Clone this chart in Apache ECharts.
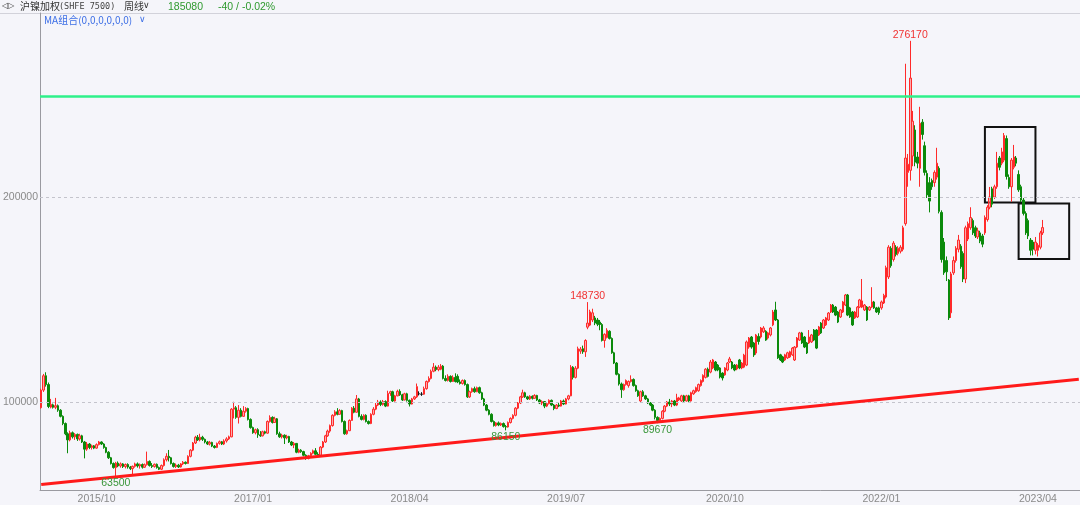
<!DOCTYPE html>
<html><head><meta charset="utf-8">
<script src="https://cdn.jsdelivr.net/npm/echarts@6/dist/echarts.min.js"></script>
<style>html,body{margin:0;padding:0;background:#f5f5fa;}#c{width:1080px;height:505px;}</style>
</head><body><div id="c"></div>
<script>
// ---- data ----
const firstWeek = '2015-04-27';
const weekCount = 432;
const tickLabels = ['2015/10','2017/01','2018/04','2019/07','2020/10','2022/01','2023/04'];
const gridLevels = [100000, 200000];
const highMarks = [276170, 148730];
const lowMarks = [63500, 86150, 89670];
const resistanceLevel = 249100;
const trendLine = [59700, 111100];
const boxes = [['2022-10-31','2023-03-27',234100,197300],['2023-02-06','2023-07-03',196800,169800]];
// [open, close, low, high]
const weeklyOHLC = [
[97200,105800,96800,106500],[105800,112800,104900,113700],[112800,108500,107500,114500],[108500,97800,97000,109500],[97500,98800,96900,101500],[98600,97400,96800,99200],
[97400,98200,96500,102000],[98200,96000,95200,98800],[96000,93000,92500,96500],[93000,89500,88700,93500],[89500,84500,83800,90000],[84500,81500,75000,85200],
[81500,85000,80800,86000],[85000,83000,82200,85600],[83000,84200,81500,84800],[84200,82000,81000,84600],[82000,83500,81200,84500],[83500,80500,80000,84000],
[80500,77000,72500,81000],[77000,79500,76200,80500],[79500,77800,77000,80000],[77800,78600,76800,79200],[78600,77500,77000,79000],[77500,79200,77200,79800],
[79200,80500,78800,81000],[80500,79500,79000,80800],[79500,77800,77200,79900],[77800,75500,75000,78200],[75500,72800,72200,76000],[72800,70000,69500,73200],
[70000,68000,67500,70500],[68000,70200,63500,70800],[70200,68800,68200,71000],[68800,69800,68000,70500],[69800,68500,67800,70200],[68500,69500,67600,70000],
[69500,68300,67500,70100],[68300,67500,66800,68800],[67500,68600,64800,69000],[68600,69800,68000,70400],[69800,68800,68000,70500],[68800,69500,67500,70000],
[69500,68200,67500,70000],[68200,69400,67800,70000],[69400,71000,69000,75800],[71000,69000,68500,71500],[69000,68500,67800,70200],[68500,69600,68000,70000],
[69600,68000,67500,70000],[68000,67200,66800,68500],[67200,69000,66800,69500],[69000,71800,68500,72500],[71800,73500,71000,75000],[73500,72800,71000,76600],
[72800,70000,69500,73200],[70000,68500,68000,70500],[68500,69200,67800,70000],[69200,68300,67800,69800],[68300,69800,68000,70200],[69800,70600,69200,71200],
[70600,70000,69500,71000],[70000,73500,69800,74000],[73500,76500,73000,77000],[76500,80000,76000,80500],[80000,82800,79500,83500],[82800,81500,81000,83900],
[81500,82800,80800,84500],[82800,81800,81000,83500],[81800,80500,79800,82200],[80500,79500,79000,81000],[79500,80300,78800,81000],[80300,78500,78000,80600],
[78500,77800,77300,79000],[77800,79800,77500,80200],[79800,80600,79200,81200],[80600,79500,79000,81000],[79500,81000,79000,81800],[81000,82000,80200,82800],
[82000,83000,81500,83600],[83000,96500,82800,97000],[96500,97200,92000,100100],[97200,92500,91800,98000],[92500,96000,89500,98500],[96000,93000,92500,97000],
[93000,95500,92800,98000],[95500,96800,94800,97500],[96800,91500,91000,97200],[91500,87500,87000,92000],[87500,85000,84500,88000],[85000,86500,84200,87000],
[86500,84000,82500,87200],[84000,83500,83000,85800],[83500,85500,83200,86000],[85500,84800,84200,86000],[84800,90500,84500,91000],[90500,92500,90000,93500],
[92500,90000,89500,93000],[90000,91800,89800,92800],[91800,84500,84000,92200],[84500,83000,82500,85500],[83000,83800,82200,84500],[83800,82500,79500,84200],
[82500,83200,81800,84000],[83200,80500,80000,83500],[80500,79000,78500,81000],[79000,79800,77500,80500],[79800,75500,75000,80000],[75500,76500,75000,77200],
[76500,75800,75200,77000],[75800,74000,73500,76200],[74000,72500,71800,74500],[72500,73800,72000,74200],[73800,75000,73200,75500],[75000,76200,74500,76800],
[76200,74500,74000,77500],[74500,74000,73500,75500],[74000,78000,73800,78500],[78000,80500,77500,81000],[80500,83500,80000,84000],[83500,85800,83000,86500],
[85800,88500,85000,89000],[88500,93500,88000,94000],[93500,95200,93000,96000],[95200,94000,93500,97000],[94000,95800,93800,96500],[95800,90500,90000,96200],
[90500,84500,84000,91000],[84500,86000,84000,86500],[86000,91000,85800,91500],[91000,97000,90800,97500],[97000,95000,94500,98000],[95000,101500,94800,103400],
[101500,93000,92500,102000],[93000,91500,91000,94000],[91500,93500,91000,94000],[93500,90500,90000,94000],[90500,89500,89000,91000],[89500,94000,89200,94500],
[94000,96500,93500,97500],[96500,98500,96000,99500],[98500,100000,98000,101000],[100000,98800,98000,100800],[98800,100200,98200,101000],[100200,98000,97500,100800],
[98000,104200,97800,105500],[104200,105000,103000,105500],[105000,100500,100000,105500],[100500,103000,100200,103500],[103000,105200,102800,106000],[105200,103500,103000,106200],
[103500,101000,100500,104000],[101000,104000,100800,104500],[104000,100800,100200,104500],[100800,99000,97800,101200],[99000,101500,98800,102000],[101500,102500,101000,103000],
[102500,107500,102000,109000],[104000,104000,103200,105200],[103800,103800,103000,104800],[103800,106500,103500,107500],[106500,110000,106000,110500],[110000,111500,109500,112500],
[111500,115000,111000,115800],[115000,117000,114500,119000],[117000,115800,115000,117800],[115800,117000,115000,118000],[116000,117500,115500,118500],[117500,111500,111000,118000],
[111500,110500,110000,113000],[110500,112500,110000,113500],[112500,110000,109500,113000],[110000,112000,109800,113000],[112000,110000,109500,114000],[112500,109800,109200,113500],
[109800,109000,108500,111000],[109000,110500,108500,111000],[110500,108500,108000,111000],[108500,102500,102000,109000],[102500,105000,102000,105500],[105000,106500,104500,107000],
[106500,105000,104500,107500],[105000,107000,104800,107500],[107000,104500,104000,107500],[104500,101500,101000,105000],[101500,98500,98000,102000],[98500,96000,95500,99000],
[96000,94000,93500,96500],[94000,90500,90000,94500],[90500,88500,88000,91000],[88500,89800,88000,90200],[89800,88800,88200,90500],[88800,89500,88300,90000],
[89500,88000,87500,90000],[88000,87800,86150,88800],[87800,90000,87500,90500],[90000,92000,89500,92500],[92000,93500,91500,94000],[93500,97000,93000,97500],
[97000,99500,96500,100000],[99500,102500,99000,103000],[102500,104500,102000,106000],[104500,102500,102000,105000],[102500,101500,101000,103000],[101500,102800,101000,103300],
[102800,101800,101200,103200],[101800,103200,101500,103800],[103200,101000,100500,103500],[101000,99500,99000,101500],[99500,100200,98500,100800],[100200,98000,97000,100500],
[98000,99200,97500,100000],[99200,100800,98800,101300],[100800,98500,98000,101200],[98500,96800,96000,99000],[96800,98500,96500,99000],[98500,98000,97500,99500],
[98000,100500,97800,101000],[100500,99000,98500,101200],[99000,101500,98800,102000],[101500,103000,100800,103500],[103000,117000,102800,118000],[117000,112000,111000,117500],
[112000,116500,111500,117500],[116500,126000,116000,127000],[124800,125800,123500,126800],[126000,124500,123500,127500],[124500,130000,122000,130600],[136500,138500,135500,148730],
[137500,144000,137000,145000],[140000,143500,139000,145500],[141000,138500,137500,142000],[140000,138000,137000,141000],[139000,137800,135000,140000],[137800,130000,129500,138500],
[130000,133000,126500,133500],[131500,135000,131000,136000],[134500,131000,130500,135000],[131000,124000,123500,131500],[124000,119000,118500,124500],[119000,113500,113000,119500],
[113500,108800,108000,114000],[108800,106000,102000,109500],[106000,108500,105500,109000],[108500,110500,108000,111000],[108000,110000,107000,110500],[110000,111000,109500,113000],
[111000,108000,107500,111500],[108000,105500,105000,108500],[105500,103000,102500,106000],[100500,105000,100000,105500],[105000,103000,102500,105800],[103000,101500,101000,103500],
[101500,99500,99000,102000],[99500,98500,98000,100000],[98500,96000,95500,99000],[96000,92500,91500,96500],[92500,91000,89670,93000],[91000,92000,90000,92500],
[92000,95500,91500,96000],[95500,98000,95000,98500],[98000,100000,97500,100500],[100000,99000,98000,101500],[99000,100500,97500,101000],[100500,98500,98000,101000],
[98500,102000,98000,104000],[101000,102000,100500,102500],[100500,103000,100000,103500],[103000,100500,100000,103500],[100500,103000,100200,103500],[103000,100500,100000,103500],
[100500,104500,100200,105000],[104000,105500,103500,106000],[105000,107000,104500,107500],[105500,108500,105000,109000],[108000,110500,107500,111000],[110000,113000,109500,113500],
[112000,116000,111500,116500],[116000,112500,112000,116800],[114600,119500,114000,120500],[116600,120500,116000,121000],[119500,115600,115000,120000],[118000,115600,115000,118500],
[116600,112200,111500,117000],[114100,111700,110500,114500],[113200,116600,112800,117000],[115600,119000,115000,119500],[119500,121000,119000,122000],[119500,116600,116000,120000],
[118000,115600,115000,118500],[116100,118000,115500,118500],[120500,116600,116000,121000],[116600,119000,116000,119500],[117000,122900,116500,123500],[118000,129300,117500,130000],
[126800,131200,126000,131700],[131700,126800,126000,132200],[128800,122900,122000,129300],[123900,132700,123000,133200],[132000,129500,128000,133500],[131700,136100,131000,136600],
[134200,136100,133700,137000],[134500,130200,129800,135000],[131200,133700,130500,134200],[132700,136100,132000,136600],[137600,143900,137000,144900],[144900,140000,139500,148900],
[140000,121500,121000,140500],[123000,120500,120000,123500],[122000,119500,119000,122500],[120500,123000,120000,123500],[121500,124000,121000,124500],[122000,124500,121500,125000],
[123000,126300,122500,126800],[120500,126800,120000,127300],[126800,131200,126300,131700],[130200,133700,129800,134200],[133700,128800,128300,134200],[131700,126800,126300,132200],
[128800,123900,123400,129300],[128800,131700,128300,135100],[129300,132700,128800,133200],[135100,130200,129700,135600],[135100,126300,125800,135600],[132700,136600,132200,137100],
[138500,133700,133200,139000],[136100,140000,135600,140500],[137600,141000,137100,141500],[140000,143400,139500,143900],[143900,147300,143400,147800],[147300,143900,143400,147800],
[146300,142400,141900,146800],[143900,139000,138500,144400],[141500,144900,141000,145400],[143900,148800,143400,149300],[147300,152200,146800,152700],[152200,142400,141900,152700],
[145900,141500,141000,146400],[143900,137600,137100,144400],[141000,143900,140500,144400],[141500,146300,141000,146800],[146300,149800,145800,150300],[146300,149300,145800,160000],
[144900,147300,144400,147800],[146300,140000,139500,146800],[144900,146300,144400,146800],[146300,148800,145800,156000],[148800,145900,145400,149300],[145900,143900,143400,146400],
[145900,143500,142500,146500],[145900,148800,145000,149500],[148300,152000,147800,152800],[151200,165500,150500,166500],[161000,175500,160000,176500],[175000,166500,165500,176000],
[169500,177500,168500,178500],[175500,172000,171000,176500],[172500,175000,171500,176000],[173500,175500,172500,176500],[174500,185000,173500,186000],[187000,219000,186000,265000],
[212000,216000,205000,221000],[213000,258000,208000,276170],[220000,237000,215000,242000],[232700,217000,215000,235000],[219500,216500,214000,222000],[214000,236000,205000,244000],
[236500,230500,228000,238000],[225000,212000,210500,227000],[211500,201000,199500,213000],[207000,198000,192500,209700],[208000,205000,203500,209000],[207000,212000,205000,213000],
[209700,216500,208500,224000],[214000,193000,192000,215000],[192500,169500,168000,193500],[178000,163000,162000,180000],[169000,163500,159000,171000],[159500,141000,140000,160000],
[143500,162500,141000,163500],[163000,169000,162000,171000],[169000,175000,168000,176000],[174500,179000,173000,181500],[176000,166000,165000,177000],[172500,160000,158500,173500],
[160000,185000,158000,186000],[179500,187000,178500,188000],[185000,190000,184000,195000],[188500,182500,181500,189500],[185000,181000,180000,186000],[180500,183500,179500,185000],
[182500,178500,177500,183500],[181000,177000,175500,182000],[182500,190000,181500,191000],[189000,195000,188000,196000],[195000,200000,194000,204900],[204000,196500,195000,205000],
[200000,205000,199000,206000],[205000,216500,204000,222000],[219000,214500,213000,220000],[216500,222000,215500,224000],[218000,230000,217000,231200],[228500,210000,208500,230000],
[209500,205000,204000,211000],[205000,218000,197700,219000],[214500,219500,213500,225400],[219000,216500,215000,220000],[211000,203500,202500,213000],[205000,198500,197500,206000],
[198500,192000,191000,199500],[192000,182500,181500,193000],[188500,181000,179500,189500],[179000,174000,171500,180000],[178000,174500,171500,179000],[174000,178000,172000,180500],
[174000,176500,171000,177500],[175500,182500,174500,183500],[182500,185080,181500,188800]
];

// ---- build ----
function pad(n){return (n<10?'0':'')+n;}
const categories = [];
(function(){
  const p = firstWeek.split('-').map(Number);
  const base = Date.UTC(p[0], p[1]-1, p[2]);
  for (let i = 0; i < weekCount; i++) {
    const d = new Date(base + i*7*86400000);
    categories.push(d.getUTCFullYear()+'-'+pad(d.getUTCMonth()+1)+'-'+pad(d.getUTCDate()));
  }
})();
const tickIndex = {};
tickLabels.forEach(function(t){
  const key = t.replace('/','-');
  const idx = categories.findIndex(function(c){return c.indexOf(key)===0;});
  if (idx >= 0) tickIndex[idx] = t;
});

const RED = '#f03232', GREEN = '#3a963a';
const FONT = 'Liberation Sans';
const markPts = [];
highMarks.forEach(function(v){
  const i = weeklyOHLC.findIndex(function(r){return r[3]===v;});
  markPts.push({coord:[categories[i], v], value:v, label:{position:'top', color:RED, distance:0}});
});
lowMarks.forEach(function(v){
  const i = weeklyOHLC.findIndex(function(r){return r[2]===v;});
  markPts.push({coord:[categories[i], v], value:v, label:{position:'bottom', color:GREEN, distance:1}});
});

const markLines = [];
gridLevels.forEach(function(v){
  markLines.push({yAxis:v, lineStyle:{color:'#c4c4cc', type:[3,3], width:1},
    label:{show:true, position:'start', formatter:String(v), color:'#8a8a8a', fontSize:10.5, distance:2,
      fontFamily:FONT}});
});
markLines.push({yAxis:resistanceLevel, lineStyle:{color:'#2ef08a', type:'solid', width:2.5}, label:{show:false}});
markLines.push([{coord:[categories[0], trendLine[0]]},{coord:[categories[categories.length-1], trendLine[1]]}]);

const areas = boxes.map(function(b){
  return [{coord:[b[0], b[2]]},{coord:[b[1], b[3]]}];
});

const chart = echarts.init(document.getElementById('c'), null, {renderer:'canvas'});
const txt = function(x,y,t,style){return {type:'text', left:x, top:y, silent:true, style:Object.assign({text:t, fontSize:10, fill:'#333', fontFamily:'Noto Sans CJK SC'}, style||{})};};
chart.setOption({
  animation:false,
  backgroundColor:'#f5f5fa',
  grid:{left:40, right:0, top:13, bottom:15, containLabel:false},
  xAxis:{type:'category', data:categories, boundaryGap:true,
    axisLine:{show:true, lineStyle:{color:'#9a9aa0'}},
    axisTick:{show:false},
    splitLine:{show:false},
    axisLabel:{show:true, color:'#8a8a8a', fontSize:10.5, margin:4, fontFamily:FONT,
      interval:function(idx){return tickIndex.hasOwnProperty(idx);},
      formatter:function(val, idx){return tickIndex[idx] || '';}}
  },
  yAxis:{type:'value', min:57070, max:289760, scale:false,
    axisLine:{show:true, lineStyle:{color:'#9a9aa0'}},
    axisTick:{show:false}, axisLabel:{show:false}, splitLine:{show:false}},
  series:[{
    type:'candlestick',
    data:weeklyOHLC,
    barWidth:2,
    itemStyle:{color:'rgba(255,120,120,0.6)', color0:'#0b8a0b', borderColor:'#ff2a2a', borderColor0:'#0b8a0b', borderColorDoji:'#111', borderWidth:1},
    markPoint:{symbol:'circle', symbolSize:0, data:markPts,
      label:{show:true, fontSize:10.5, fontFamily:FONT, formatter:function(p){return String(p.value);}}},
    markLine:{symbol:['none','none'], silent:true, animation:false, data:markLines,
      lineStyle:{color:'#ff1a1a', width:3, type:'solid'}, label:{show:false}},
    markArea:{silent:true, data:areas, itemStyle:{color:'rgba(0,0,0,0)', borderColor:'#111', borderWidth:2}}
  }],
  graphic:[
    {type:'line', silent:true, shape:{x1:0, y1:13.5, x2:1080, y2:13.5}, style:{stroke:'#d2d2da', lineWidth:1}},
    txt(2, 2, '◁▷', {fontSize:8, fill:'#444', fontFamily:'DejaVu Sans'}),
    txt(20, 1, '沪镍加权', {fontSize:10}),
    txt(59, 2.5, '(SHFE 7500)', {fontSize:8.5, fontFamily:'DejaVu Sans Mono', fill:'#444'}),
    txt(124, 1, '周线', {fontSize:10}),
    txt(143, 1, '∨', {fontSize:9, fontFamily:'DejaVu Sans'}),
    txt(168, 1.5, '185080', {fontSize:10.5, fill:'#2f9a2f', fontFamily:FONT}),
    txt(218, 1.5, '-40 / -0.02%', {fontSize:10.5, fill:'#2f9a2f', fontFamily:FONT}),
    txt(44, 15, 'MA组合(0,0,0,0,0,0)', {fontSize:10, fill:'#3d6fe6'}),
    txt(139, 15, '∨', {fontSize:9, fill:'#3d6fe6', fontFamily:'DejaVu Sans'})
  ]
});
</script>
</body></html>
